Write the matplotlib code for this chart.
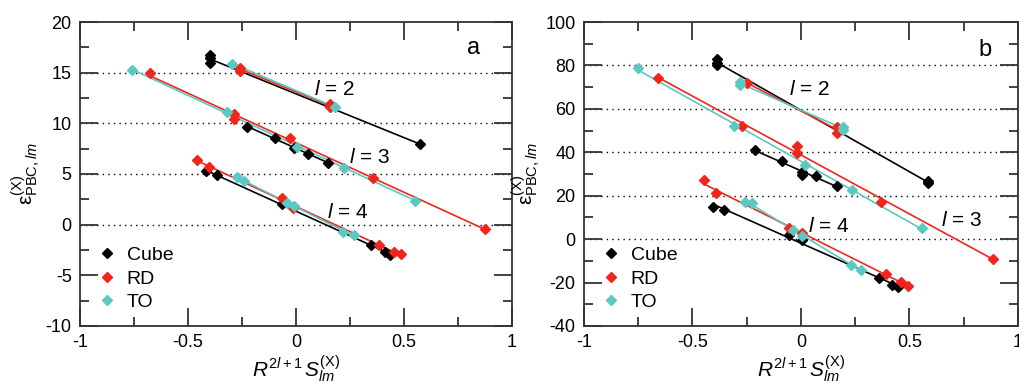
import numpy as np
import matplotlib
matplotlib.use("Agg")
import matplotlib.pyplot as plt
from matplotlib.ticker import MultipleLocator, FuncFormatter

plt.rcParams['font.family'] = ['Liberation Sans', 'DejaVu Sans']
plt.rcParams['mathtext.fontset'] = 'custom'
plt.rcParams['mathtext.rm'] = 'Liberation Sans'
plt.rcParams['mathtext.it'] = 'Liberation Sans:italic'
plt.rcParams['axes.unicode_minus'] = False

# panel a : (x, y) per shape and l
a_cube_l2 = ([-0.40, -0.40, -0.40, 0.574], [16.7, 16.4, 16.0, 7.95])
a_cube_l3 = ([-0.225, -0.097, -0.008, 0.057, 0.150], [9.61, 8.59, 7.6, 6.98, 6.06])
a_cube_l4 = ([-0.418, -0.367, -0.063, 0.347, 0.412, 0.435], [5.30, 4.9, 2.04, -1.97, -2.67, -2.99])
a_rd_l2 = ([-0.258, -0.258, 0.157, 0.157], [15.5, 15.2, 11.9, 11.6])
a_rd_l3 = ([-0.676, -0.287, -0.287, -0.028, 0.358, 0.875], [14.95, 10.9, 10.4, 8.53, 4.58, -0.42])
a_rd_l4 = ([-0.46, -0.401, -0.063, -0.012, 0.384, 0.454, 0.485], [6.39, 5.73, 2.6, 1.62, -2.0, -2.73, -2.93])
a_to_l2 = ([-0.295, 0.181], [15.9, 11.6])
a_to_l3 = ([-0.761, -0.321, 0.003, 0.224, 0.551], [15.27, 11.15, 7.7, 5.63, 2.37])
a_to_l4 = ([-0.272, -0.241, -0.043, -0.008, 0.219, 0.269], [4.74, 4.31, 2.11, 1.85, -0.69, -1.02])

# panel b
b_cube_l2 = ([-0.389, -0.389, -0.389, 0.584, 0.584], [82.8, 81.3, 80.2, 26.9, 25.7])
b_cube_l3 = ([-0.212, -0.086, 0.006, 0.006, 0.069, 0.164], [41.0, 36.0, 31.0, 29.5, 29.1, 24.6])
b_cube_l4 = ([-0.404, -0.355, -0.054, 0.003, 0.359, 0.421, 0.449], [14.9, 13.4, 1.9, -0.4, -18.1, -21.1, -22.2])
b_rd_l2 = ([-0.25, 0.167, 0.167], [72.0, 51.8, 49.0])
b_rd_l3 = ([-0.66, -0.273, -0.017, -0.017, 0.369, 0.883], [74.2, 52.1, 42.9, 39.8, 17.2, -9.2])
b_rd_l4 = ([-0.447, -0.392, -0.054, 0.003, 0.394, 0.463, 0.494], [27.2, 21.1, 5.3, 2.7, -16.2, -19.9, -21.6])
b_to_l2 = ([-0.281, -0.281, 0.192, 0.192], [72.5, 71.0, 51.8, 50.3])
b_to_l3 = ([-0.749, -0.309, 0.018, 0.236, 0.559], [78.8, 52.1, 34.1, 22.6, 5.3])
b_to_l4 = ([-0.26, -0.226, -0.035, 0.003, 0.229, 0.279], [17.2, 16.8, 4.2, 1.4, -11.9, -14.2])

shapes = ['Cube', 'RD', 'TO']
colors = {'Cube': 'black', 'RD': '#f0261c', 'TO': '#5cc8c2'}

panels = [
    {'Cube': [a_cube_l2, a_cube_l3, a_cube_l4],
     'RD': [a_rd_l2, a_rd_l3, a_rd_l4],
     'TO': [a_to_l2, a_to_l3, a_to_l4]},
    {'Cube': [b_cube_l2, b_cube_l3, b_cube_l4],
     'RD': [b_rd_l2, b_rd_l3, b_rd_l4],
     'TO': [b_to_l2, b_to_l3, b_to_l4]},
]
ylims = [(-10, 20), (-40, 100)]
ymajor = [5, 20]
grid_y = [[0, 5, 10, 15], [0, 20, 40, 60, 80]]
tags = ['a', 'b']
tag_pos = [(0.82, 17.4), (0.85, 87)]
l_labels = [[(0.18, 13.3, 2), (0.34, 6.6, 3), (0.24, 1.2, 4)],
            [(0.04, 68.7, 2), (0.74, 8.8, 3), (0.13, 5.6, 4)]]

fig = plt.figure(figsize=(10.2, 3.89), dpi=100)
axes = [fig.add_axes([0.0784, 0.162, 0.4236, 0.7814]),
        fig.add_axes([0.5725, 0.162, 0.4255, 0.7814])]

fmt = FuncFormatter(lambda v, p: '%g' % v)

for i, ax in enumerate(axes):
    for gy in grid_y[i]:
        ax.axhline(gy, color='black', ls=(0, (1, 3)), lw=1.0, zorder=1)
    for s in shapes:
        for k, (xs, ys) in enumerate(panels[i][s]):
            xs = np.array(xs)
            ys = np.array(ys)
            c = np.polyfit(xs, ys, 1)
            xx = np.array([xs.min(), xs.max()])
            ax.plot(xx, np.polyval(c, xx), color=colors[s], lw=1.2, zorder=2)
            ax.plot(xs, ys, 'D', color=colors[s], ms=5, mec=colors[s], zorder=3,
                    label=s if k == 0 else None)
    for lx, ly, l in l_labels[i]:
        ax.text(lx, ly, r'$l$ = %d' % l, fontsize=15, ha='center', va='center')
    ax.text(*tag_pos[i], tags[i], fontsize=17, ha='center', va='center')

    ax.set_xlim(-1, 1)
    ax.set_ylim(*ylims[i])
    ax.xaxis.set_major_locator(MultipleLocator(0.5))
    ax.xaxis.set_minor_locator(MultipleLocator(0.25))
    ax.yaxis.set_major_locator(MultipleLocator(ymajor[i]))
    ax.yaxis.set_minor_locator(MultipleLocator(ymajor[i] / 2))
    ax.xaxis.set_major_formatter(fmt)
    ax.yaxis.set_major_formatter(fmt)
    ax.tick_params(which='both', direction='in', top=True, right=True,
                   labelsize=13, color='#333333', width=1.3)
    ax.tick_params(which='major', length=13, pad=6)
    ax.tick_params(which='minor', length=6.5)
    for sp in ax.spines.values():
        sp.set_color('#333333')
        sp.set_linewidth(1.3)
    ax.set_xlabel(r'$R^{2l+1}\,S^{(\mathrm{X})}_{lm}$', fontsize=15, labelpad=2)
    ax.set_ylabel(r'ε$^{(\mathrm{X})}_{\mathrm{PBC,}lm}$', fontsize=15, labelpad=2)
    ax.legend(loc='lower left', frameon=False, fontsize=14, handlelength=0.8,
              handletextpad=0.6, labelspacing=0.3, borderaxespad=0.6,
              bbox_to_anchor=(0.0, -0.015))

fig.savefig('out.png', dpi=100)
